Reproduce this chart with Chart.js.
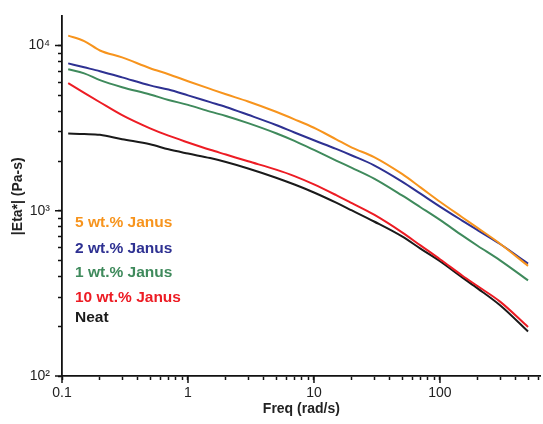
<!DOCTYPE html>
<html><head><meta charset="utf-8">
<script src="https://cdn.jsdelivr.net/npm/chart.js@4.4.0/dist/chart.umd.min.js"></script>
<style>html,body{margin:0;padding:0;background:#fff}</style>
</head><body>
<canvas id="c" width="543" height="424"></canvas>
<script>
// Frequencies (rad/s)
const freq = [0.112, 0.15, 0.2, 0.3, 0.5, 0.7, 1, 1.5, 2, 3, 5, 7, 10, 15, 20, 30, 50, 70, 100, 150, 200, 300, 500];
// |Eta*| (Pa-s)
const eta5wt  = [11480, 10640, 9330, 8470, 7290, 6700, 6080, 5460, 5065, 4580, 3970, 3575, 3178, 2706, 2413, 2113, 1670, 1386, 1134, 914, 785, 632, 464];
const eta2wt  = [7797, 7378, 6989, 6416, 5736, 5412, 4989, 4541, 4248, 3809, 3304, 2974, 2670, 2367, 2160, 1884, 1502, 1269, 1060, 872, 761, 629, 479];
const eta1wt  = [7178, 6781, 6172, 5595, 5057, 4681, 4374, 3981, 3746, 3391, 2945, 2648, 2334, 2011, 1817, 1565, 1238, 1050, 880, 709, 612, 501, 379];
const eta10wt = [5912, 5170, 4535, 3788, 3152, 2846, 2590, 2338, 2188, 1991, 1773, 1621, 1444, 1243, 1111, 946, 740, 617, 509, 406, 349, 282, 198];
const etaNeat = [2933, 2913, 2881, 2710, 2529, 2353, 2218, 2084, 1972, 1803, 1585, 1441, 1290, 1119, 1004, 861, 699, 590, 495, 395, 338, 268, 186];

const seriesLabels = ['5 wt.% Janus', '2 wt.% Janus', '1 wt.% Janus', '10 wt.% Janus', 'Neat'];
const seriesValues = [eta5wt, eta2wt, eta1wt, eta10wt, etaNeat];
const seriesColors = ['#F7941D', '#2E3192', '#3F8A5C', '#ED1C24', '#1A1A1A'];

const xTickValues = [0.1, 1, 10, 100];
const xTickLabels = ['0.1', '1', '10', '100'];
const yTickValues = [100, 1000, 10000];
const yTickLabels = ['10\u00B2', '10\u00B3', '10\u2074'];

const FONT = '"Liberation Sans", Arial, Helvetica, sans-serif';

function isDecade(v){ const l = Math.log10(v); return Math.abs(l - Math.round(l)) < 1e-6; }
function keepIntegerSignificand(scale){
  scale.ticks = scale.ticks.filter(t => {
    const e = Math.floor(Math.log10(t.value) + 1e-9);
    const s = t.value / Math.pow(10, e);
    return Math.abs(s - Math.round(s)) < 1e-6;
  });
}
function labelFor(values, labels, v){
  for (let i = 0; i < values.length; i++) if (Math.abs(Math.log10(v) - Math.log10(values[i])) < 1e-6) return labels[i];
  return '';
}

const majorTicks = {
  id: 'majorTicks',
  afterDraw(chart){
    const ctx = chart.ctx;
    ctx.save();
    ctx.strokeStyle = '#111';
    ctx.lineWidth = 1.5;
    const xs = chart.scales.x, ys = chart.scales.y;
    xs.ticks.forEach(t => {
      if (!isDecade(t.value)) return;
      const p = xs.getPixelForValue(t.value);
      ctx.beginPath(); ctx.moveTo(p, xs.top); ctx.lineTo(p, xs.top + 7); ctx.stroke();
    });
    ys.ticks.forEach(t => {
      if (!isDecade(t.value)) return;
      const p = ys.getPixelForValue(t.value);
      ctx.beginPath(); ctx.moveTo(ys.right, p); ctx.lineTo(ys.right - 7, p); ctx.stroke();
    });
    ctx.restore();
  }
};

const inlineLegend = {
  id: 'inlineLegend',
  afterDatasetsDraw(chart, args, opts){
    const ctx = chart.ctx;
    ctx.save();
    ctx.font = 'bold 15.5px ' + FONT;
    ctx.textBaseline = 'middle';
    ctx.textAlign = 'left';
    chart.data.datasets.forEach((ds, i) => {
      ctx.fillStyle = ds.borderColor;
      ctx.fillText(ds.label, opts.x, opts.y[i]);
    });
    ctx.restore();
  }
};

new Chart(document.getElementById('c'), {
  type: 'line',
  data: {
    datasets: seriesLabels.map((lab, i) => ({
      label: lab,
      data: freq.map((f, j) => ({x: f, y: seriesValues[i][j]})),
      borderColor: seriesColors[i],
      backgroundColor: seriesColors[i],
      borderWidth: 2,
      pointRadius: 0,
      tension: 0.3,
      cubicInterpolationMode: 'monotone',
      fill: false
    }))
  },
  options: {
    responsive: false,
    devicePixelRatio: 1,
    animation: false,
    layout: { padding: { top: 15, right: 0, left: 0, bottom: 0 } },
    plugins: {
      legend: { display: false },
      tooltip: { enabled: false },
      inlineLegend: { x: 75, y: [223, 249, 272.5, 297.5, 318] }
    },
    scales: {
      x: {
        type: 'logarithmic',
        min: 0.1, max: 630,
        afterBuildTicks: keepIntegerSignificand,
        afterFit: s => { s.height = 48; },
        grid: { display: true, drawOnChartArea: false, drawTicks: true, tickLength: 4, tickWidth: 1.5, tickColor: '#111' },
        border: { display: true, color: '#111', width: 1.8 },
        ticks: {
          autoSkip: false, maxRotation: 0, padding: 5,
          color: '#222', font: { family: FONT, size: 14 },
          callback: v => labelFor(xTickValues, xTickLabels, v)
        },
        title: { display: true, text: 'Freq (rad/s)', color: '#222', font: { family: FONT, size: 14, weight: 'bold' }, padding: { top: 0, bottom: 6 } }
      },
      y: {
        type: 'logarithmic',
        min: 100, max: 15000,
        afterBuildTicks: keepIntegerSignificand,
        afterFit: s => { s.width = 62; },
        grid: { display: true, drawOnChartArea: false, drawTicks: true, tickLength: 4, tickWidth: 1.5, tickColor: '#111' },
        border: { display: true, color: '#111', width: 1.8 },
        ticks: {
          autoSkip: false, padding: 8,
          color: '#222', font: { family: FONT, size: 14 },
          callback: v => labelFor(yTickValues, yTickLabels, v)
        },
        title: { display: true, text: '|Eta*| (Pa-s)', color: '#222', font: { family: FONT, size: 14, weight: 'bold' }, padding: { top: 10, bottom: 0 } }
      }
    }
  },
  plugins: [majorTicks, inlineLegend]
});
</script>
</body></html>
